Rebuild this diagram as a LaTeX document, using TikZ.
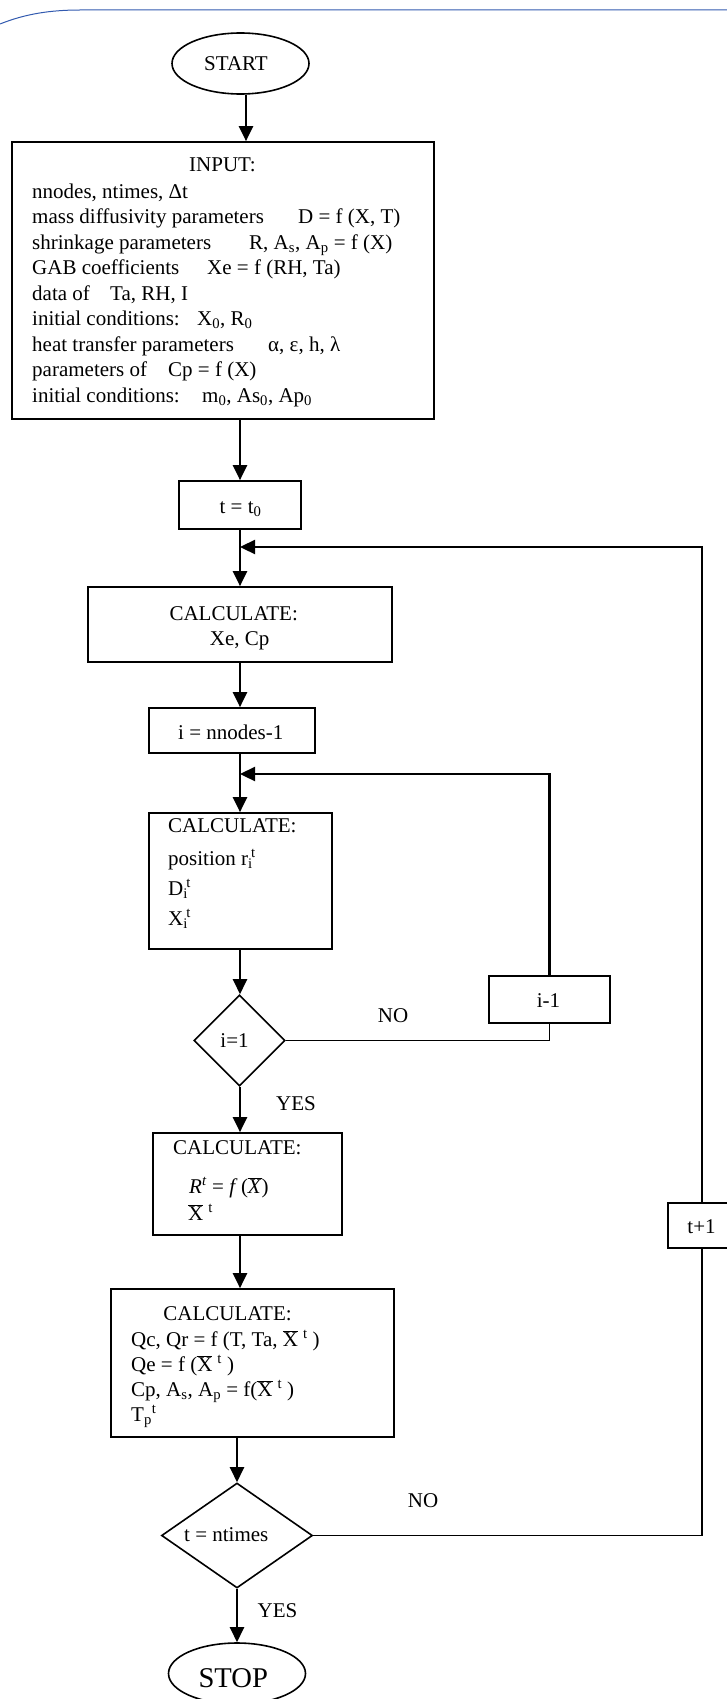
\documentclass[tikz,border=0pt]{standalone}
\usepackage{fontspec}
\setmainfont{Liberation Serif}
\usetikzlibrary{shapes.geometric,arrows.meta}
\definecolor{bluel}{RGB}{50,90,175}
\newcommand{\xbar}{$\overline{\mbox{X}}$}
\begin{document}
\begin{tikzpicture}[x=1pt,y=-1pt,
  font=\fontsize{21pt}{25.5pt}\selectfont,
  box/.style={draw, line width=1.7pt, inner sep=0pt, rectangle},
  dia/.style={draw, diamond, line width=1.6pt, inner sep=0pt},
  ell/.style={draw, ellipse, line width=1.6pt, inner sep=0pt, minimum width=137pt, minimum height=61pt},
  arr/.style={line width=2.3pt, -{Triangle[length=15pt,width=14pt]}},
  con/.style={line width=1.5pt},
  txt/.style={inner sep=0pt, anchor=base west},
  ctxt/.style={inner sep=0pt, anchor=base}]
\useasboundingbox (0,0) rectangle (727,1699);

% decorative blue border line
\draw[color=bluel, line width=1pt] (0,24) .. controls (25,14) and (50,10) .. (80,10) -- (727,10);

% ---------- nodes ----------
\node[ell] (start) at (240.5,63.5) {};
\node[ctxt] (starttxt) at (236,71) {START};

\node[box, minimum width=422pt, minimum height=277pt] (inp) at (223,280.5) {};
\node[ctxt] (inpT) at (222.5,172) {INPUT:};
\node[txt] (in1) at (32,198) {nnodes, ntimes, Δt};
\node[txt] (in2) at (32,223.5) {\makebox[266pt][l]{mass diffusivity parameters}D = f (X, T)};
\node[txt] (in3) at (32,249) {\makebox[217pt][l]{shrinkage parameters}R, A\textsubscript{s}, A\textsubscript{p} = f (X)};
\node[txt] (in4) at (32,274.5) {\makebox[175pt][l]{GAB coefficients}Xe = f (RH, Ta)};
\node[txt] (in5) at (32,300) {\makebox[78pt][l]{data of}Ta, RH, I};
\node[txt] (in6) at (32,325.5) {\makebox[165pt][l]{initial conditions:}X\textsubscript{0}, R\textsubscript{0}};
\node[txt] (in7) at (32,351) {\makebox[236pt][l]{heat transfer parameters}α, ε, h, λ};
\node[txt] (in8) at (32,376.5) {\makebox[136pt][l]{parameters of}Cp = f (X)};
\node[txt] (in9) at (32,402) {\makebox[170pt][l]{initial conditions:}m\textsubscript{0}, As\textsubscript{0}, Ap\textsubscript{0}};

\node[box, minimum width=122pt, minimum height=48pt] (t0) at (240,505) {};
\node[ctxt] (t0txt) at (240.5,513) {t = t\textsubscript{0}};

\node[box, minimum width=304pt, minimum height=75pt] (calc1) at (240,624.5) {};
\node[ctxt] (c1a) at (233.7,620) {CALCULATE:};
\node[ctxt] (c1b) at (239.7,645) {Xe, Cp};

\node[box, minimum width=166pt, minimum height=45pt] (inode) at (232,730.5) {};
\node[ctxt] (inodetxt) at (230.8,739) {i = nnodes-1};

\node[box, minimum width=183pt, minimum height=136pt] (calc2) at (240.5,881) {};
\node[txt] (c2a) at (168,832) {CALCULATE:};
\node[txt] (c2b) at (168,865) {position r\textsubscript{i}\kern-1.5pt\textsuperscript{t}};
\node[txt] (c2c) at (168,895) {D\textsubscript{i}\kern-1.5pt\textsuperscript{t}};
\node[txt] (c2d) at (168,925) {X\textsubscript{i}\kern-1.5pt\textsuperscript{t}};

\node[dia, minimum width=91pt, minimum height=91pt] (dec1) at (239.5,1040.5) {};
\node[ctxt] (dec1txt) at (234.5,1047) {i=1};
\node[ctxt] (no1) at (393,1022) {NO};
\node[ctxt] (yes1) at (296,1110) {YES};

\node[box, minimum width=121pt, minimum height=47pt] (im1) at (549.5,999.5) {};
\node[ctxt] (im1txt) at (548.5,1007) {i-1};

\node[box, minimum width=189pt, minimum height=102pt] (calc3) at (247.5,1184) {};
\node[txt] (c3a) at (173,1154) {CALCULATE:};
\node[txt] (c3b) at (189,1193) {\textit{R}\textsuperscript{\textit{t}} = \textit{f}\,($\overline{\mbox{\textit{X}}}$)};
\node[txt] (c3c) at (188,1220) {\xbar\kern5pt\textsuperscript{t}};

\node[box, minimum width=68pt, minimum height=45pt] (tp1) at (702,1225.5) {};
\node[ctxt] (tp1txt) at (701.5,1233) {t+1};

\node[box, minimum width=283pt, minimum height=148pt] (calc4) at (252.5,1363) {};
\node[ctxt] (c4a) at (227.5,1320) {CALCULATE:};
\node[txt] (c4b) at (131,1346) {Qc, Qr = f (T, Ta, \xbar\kern5pt\textsuperscript{t}\kern5pt)};
\node[txt] (c4c) at (131,1371) {Qe = f (\xbar\kern5pt\textsuperscript{t}\kern5pt)};
\node[txt] (c4d) at (131,1396) {Cp, A\textsubscript{s}, A\textsubscript{p} = f(\xbar\kern5pt\textsuperscript{t}\kern5pt)};
\node[txt] (c4e) at (131,1421) {T\textsubscript{p}\textsuperscript{t}};

\node[dia, minimum width=151pt, minimum height=105pt] (dec2) at (237,1535.5) {};
\node[ctxt] (dec2txt) at (226.3,1541) {t = ntimes};
\node[ctxt] (no2) at (423,1507) {NO};
\node[ctxt] (yes2) at (277.5,1617) {YES};

\node[ell] (stop) at (237,1673.5) {};
\node[ctxt, font=\fontsize{28.6pt}{30pt}\selectfont] (stoptxt) at (233.3,1687) {STOP};

% ---------- connectors ----------
\coordinate (a1) at (246,0);
\coordinate (sx) at (240,0);
\coordinate (j1) at (240,547);
\coordinate (j2) at (240,774);

\draw[arr] (start.south -| a1) -- (inp.north -| a1);
\draw[arr] (inp.south -| sx) -- (t0.north -| sx);
\draw[arr] (t0.south -| sx) -- (calc1.north -| sx);
\draw[arr] (calc1.south -| sx) -- (inode.north -| sx);
\draw[arr] (inode.south -| sx) -- (calc2.north -| sx);
\draw[arr] (calc2.south -| sx) -- (dec1.north -| sx);
\draw[arr] (dec1.south -| sx) -- (calc3.north -| sx);
\draw[arr] (calc3.south -| sx) -- (calc4.north -| sx);
\draw[arr] (calc4.south -| dec2.north) -- (dec2.north);
\draw[arr] (dec2.south) -- (stop.north);

\draw[con] (dec1.east) -| (im1.south);
\draw[arr] (im1.north) |- (j2);
\draw[con, line width=1.8pt] (dec2.east) -| (tp1.south);
\draw[arr] (tp1.north) |- (j1);
\end{tikzpicture}
\end{document}
